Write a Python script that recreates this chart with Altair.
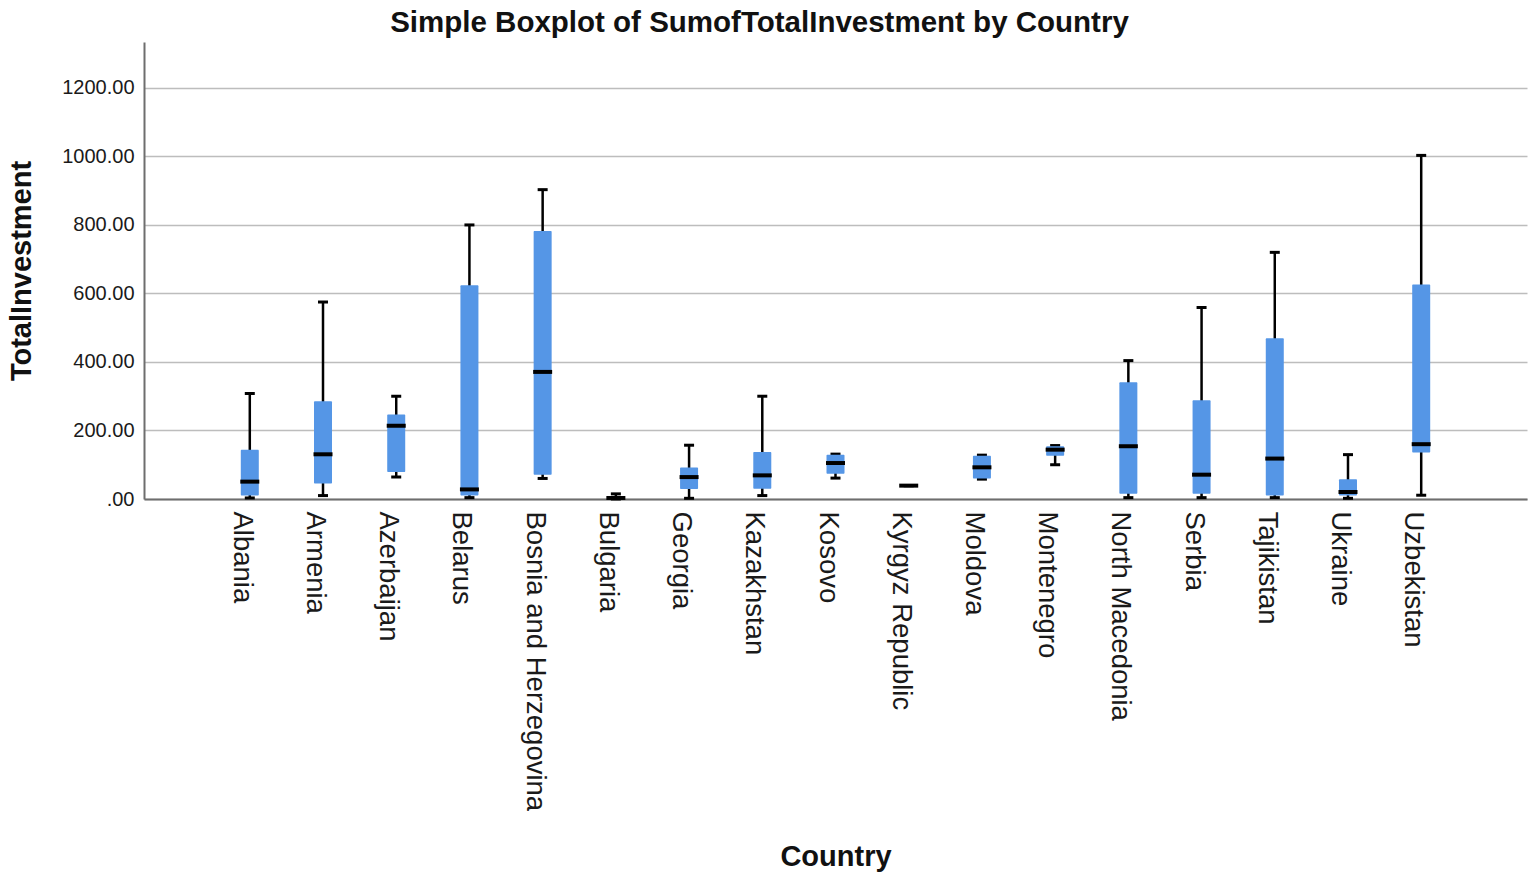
import altair as alt
import pandas as pd

countries = ["Albania", "Armenia", "Azerbaijan", "Belarus", "Bosnia and Herzegovina",
             "Bulgaria", "Georgia", "Kazakhstan", "Kosovo", "Kyrgyz Republic", "Moldova",
             "Montenegro", "North Macedonia", "Serbia", "Tajikistan", "Ukraine", "Uzbekistan"]
low    = [3,   10,  64,  4,   60,  0,  2,   10,  61,  39, 58,  100, 4,   4,   4,   2,   11]
q1     = [10,  45,  79,  10,  71,  1,  29,  30,  74,  39, 59.5, 126.6, 15.6, 15.6, 10, 10, 135.5]
median = [50.7, 130.5, 214, 28, 371, 3, 64, 69, 105, 39, 92.5, 144, 154, 71, 118, 20.5, 160]
q3     = [144, 285, 247, 624, 782, 6,  92,  137, 129, 39, 126.6, 154, 341, 288, 469, 57.5, 626]
high   = [308, 575, 300, 800, 903, 15, 157, 300, 131, 39, 128, 156, 404, 559, 720, 129.5, 1003]

df = pd.DataFrame({"Country": countries, "low": low, "q1": q1, "median": median,
                   "q3": q3, "high": high})

FONT = "Liberation Sans"

x = alt.X("Country:N", sort=countries,
          scale=alt.Scale(paddingInner=0.11, paddingOuter=1),
          axis=alt.Axis(title="Country", labelAngle=90, labelAlign="left",
                        labelBaseline="middle", labelFontSize=27.5, labelFont=FONT,
                        labelColor="#1a1a1a", labelPadding=12, labelOffset=-8,
                        ticks=False, grid=False, domainColor="#6e6e6e", domainWidth=2,
                        titleFont=FONT, titleFontSize=29, titleFontWeight="bold",
                        titleColor="#111111", titlePadding=143, labelLimit=0))

yscale = alt.Scale(domain=[0, 1334], nice=False, zero=True)
yaxis = alt.Axis(title="TotalInvestment", values=[0, 200, 400, 600, 800, 1000, 1200],
                 labelExpr="datum.value == 0 ? '.00' : format(datum.value, '.2f')",
                 labelFontSize=20, labelFont=FONT, labelColor="#1a1a1a", labelPadding=10,
                 ticks=False, grid=True, gridColor="#bdbdbd", gridWidth=1.5,
                 domainColor="#6e6e6e", domainWidth=2,
                 titleFont=FONT, titleFontSize=29, titleFontWeight="bold",
                 titleColor="#111111", titlePadding=25)

base = alt.Chart(df)

whisk = base.mark_rule(color="black", strokeWidth=2.5).encode(
    x=x, y=alt.Y("low:Q", scale=yscale, axis=yaxis), y2="high:Q")
cap_lo = base.mark_tick(color="black", size=10, thickness=3, opacity=1).encode(
    x=x, y=alt.Y("low:Q", scale=yscale))
cap_hi = base.mark_tick(color="black", size=10, thickness=3, opacity=1).encode(
    x=x, y=alt.Y("high:Q", scale=yscale))
box = base.mark_bar(color="#5596E6", size=18, cornerRadius=1).encode(
    x=x, y=alt.Y("q1:Q", scale=yscale), y2="q3:Q")
med = base.mark_tick(color="black", size=19, thickness=4, opacity=1).encode(
    x=x, y=alt.Y("median:Q", scale=yscale))

chart = alt.layer(whisk, cap_lo, cap_hi, box, med).properties(
    width=1383, height=457,
    autosize=alt.AutoSizeParams(type="none"),
    padding={"left": 144, "top": 42, "right": 9, "bottom": 375},
    title=alt.TitleParams("Simple Boxplot of SumofTotalInvestment by Country",
                          font=FONT, fontSize=29.5, fontWeight="bold", color="#111111",
                          anchor="middle", dx=-76, offset=4),
    background="white",
).configure_view(stroke=None)

chart.save("out.html", embed_options={"renderer": "svg", "actions": False})
